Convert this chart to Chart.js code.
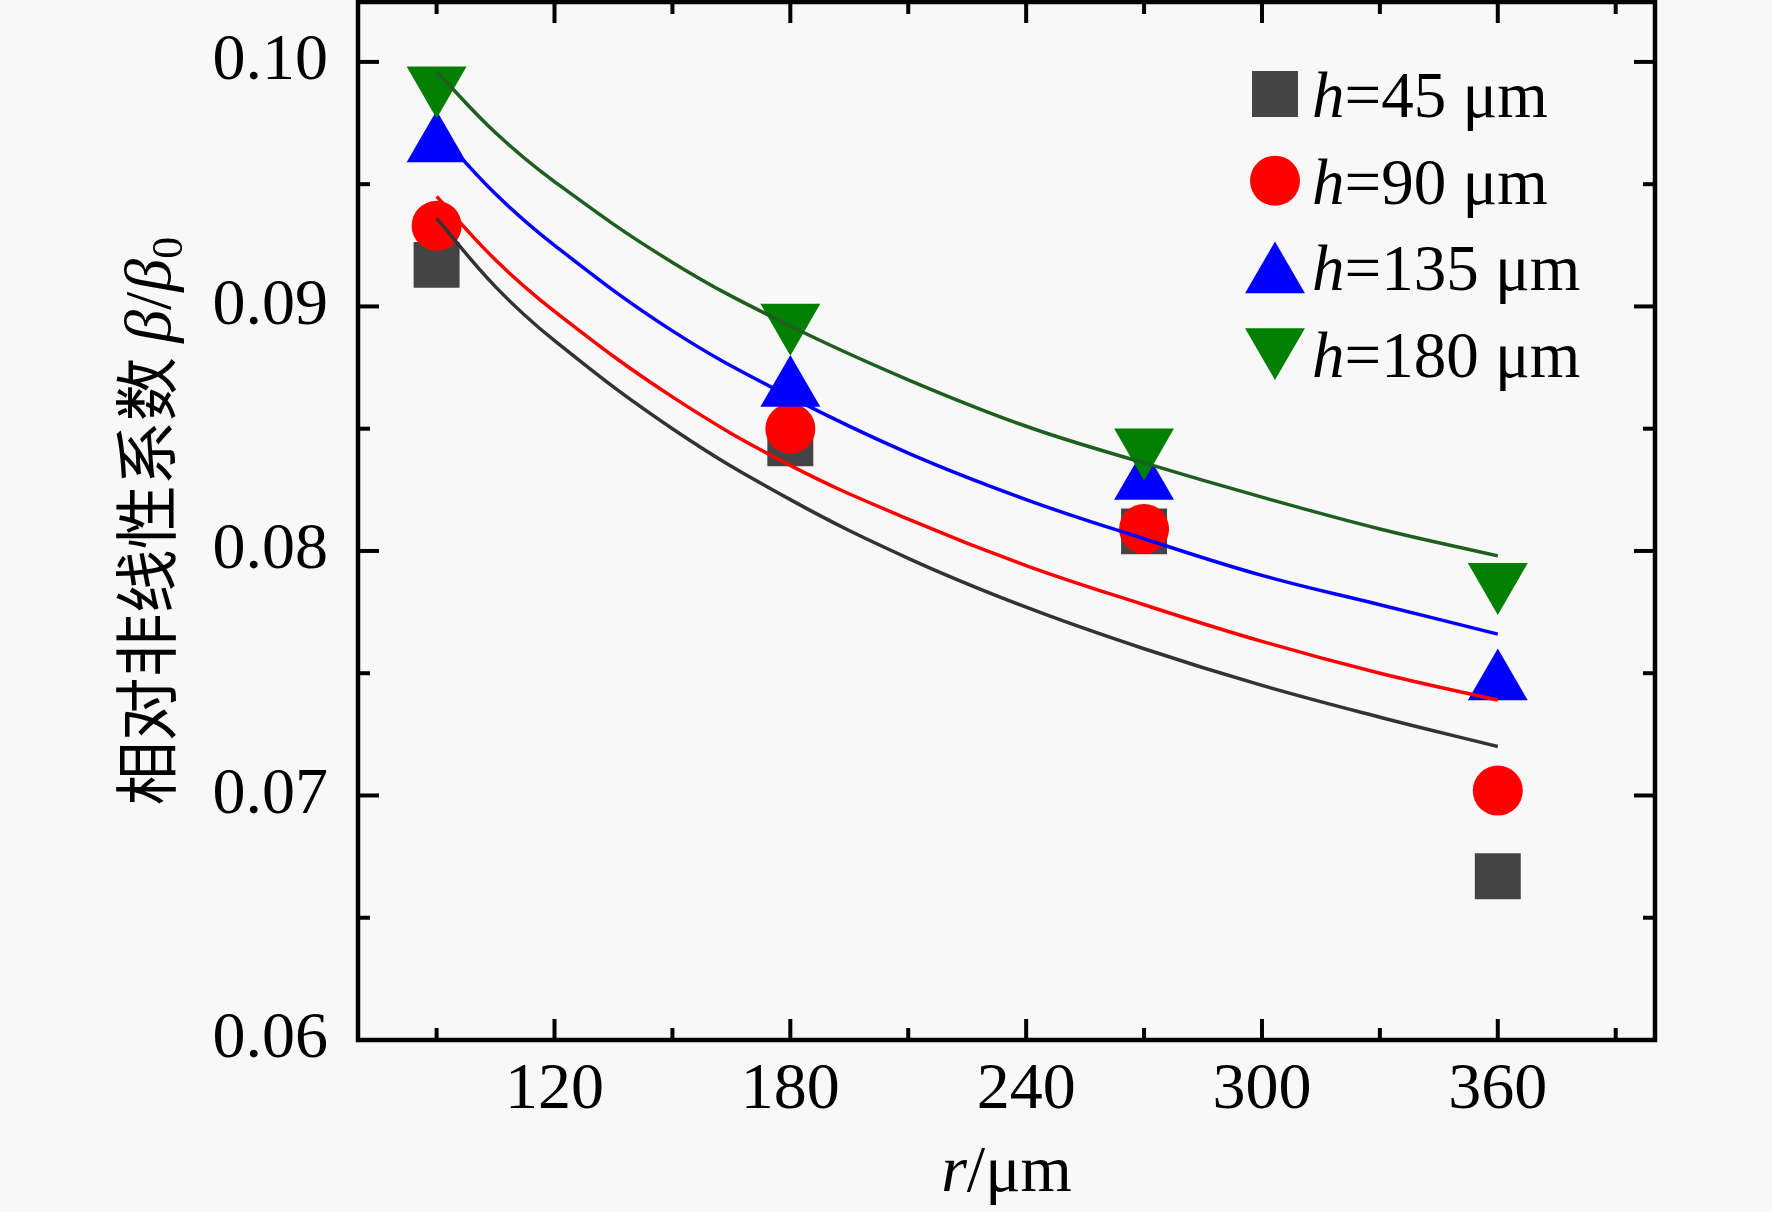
<!DOCTYPE html>
<html>
<head>
<meta charset="utf-8">
<script src="https://cdn.jsdelivr.net/npm/chart.js@4.4.1/dist/chart.umd.min.js"></script>
<style>
  html, body { margin: 0; padding: 0; background: #f8f8f8; }
  #wrap { width: 1772px; height: 1212px; }
</style>
</head>
<body>
<div id="wrap"><canvas id="chart" width="1772" height="1212"></canvas></div>
<script>
/* measured points, r (um) vs beta/beta0 */
const radii = [90, 180, 270, 360];
const h45 = [0.0917, 0.0844, 0.0808, 0.0667];
const h90 = [0.0933, 0.0850, 0.0809, 0.0702];
const h135 = [0.0966, 0.0866, 0.0828, 0.0746];
const h180 = [0.0991, 0.0894, 0.0843, 0.0788];

/* fitted curves */
const fitX = [90, 105, 120, 150, 180, 210, 240, 270, 300, 330, 360];
const fit45 = [0.0936, 0.0908, 0.0886, 0.0850, 0.0821, 0.0797, 0.0777, 0.0760, 0.0745, 0.0732, 0.0720];
const fit90 = [0.0945, 0.0919, 0.0898, 0.0863, 0.0835, 0.0813, 0.0794, 0.0778, 0.0763, 0.0750, 0.0739];
const fit135 = [0.0972, 0.0946, 0.0925, 0.0890, 0.0863, 0.0840, 0.0821, 0.0805, 0.0790, 0.0778, 0.0766];
const fit180 = [0.0996, 0.0971, 0.0951, 0.0918, 0.0892, 0.0870, 0.0851, 0.0836, 0.0822, 0.0809, 0.0798];

const heights = ['45', '90', '135', '180'];
const xMajor = [120, 180, 240, 300, 360];
const xMinor = [90, 150, 210, 270, 330, 390];
const yMajor = [0.06, 0.07, 0.08, 0.09, 0.10];
const yMinor = [0.065, 0.075, 0.085, 0.095];

const SERIF = '"Liberation Serif", "Times New Roman", serif';
const CJK = '"Noto Sans CJK SC", sans-serif';

const toPoints = (xs, ys) => xs.map((x, i) => ({ x, y: ys[i] }));

const markerSet = (label, ys, color, style, radius, rotation, order) => ({
	type: 'scatter',
	label,
	data: toPoints(radii, ys),
	backgroundColor: color,
	pointBackgroundColor: color,
	pointStyle: style,
	pointRadius: radius,
	pointHoverRadius: radius,
	pointRotation: rotation,
	pointBorderWidth: 0,
	borderWidth: 0,
	order,
	isMarker: true,
});

const fitSet = (ys, color) => ({
	type: 'line',
	data: toPoints(fitX, ys),
	borderColor: color,
	borderWidth: 3.5,
	pointRadius: 0,
	tension: 0.4,
	fill: false,
	order: 0,
});

const drawRich = (ctx, parts, x, y) => {
	let cx = x;
	parts.forEach(p => {
		ctx.font = p.font;
		ctx.fillText(p.text, cx, y + (p.dy || 0));
		cx += ctx.measureText(p.text).width;
	});
};

const richWidth = (ctx, parts) => parts.reduce((w, p) => {
	ctx.font = p.font;
	return w + ctx.measureText(p.text).width;
}, 0);

const framePlugin = {
	id: 'frame',
	afterDraw(chart) {
		const { ctx, chartArea: a, scales: { x, y } } = chart;
		ctx.save();
		ctx.strokeStyle = '#000';
		ctx.lineWidth = 4.5;
		ctx.lineCap = 'butt';
		ctx.strokeRect(a.left, a.top, a.right - a.left, a.bottom - a.top);

		const tick = (x1, y1, x2, y2) => {
			ctx.beginPath();
			ctx.moveTo(x1, y1);
			ctx.lineTo(x2, y2);
			ctx.stroke();
		};
		ctx.lineWidth = 4;
		xMajor.forEach(v => {
			const p = x.getPixelForValue(v);
			tick(p, a.bottom, p, a.bottom - 21);
			tick(p, a.top, p, a.top + 21);
		});
		xMinor.forEach(v => {
			const p = x.getPixelForValue(v);
			tick(p, a.bottom, p, a.bottom - 12);
			tick(p, a.top, p, a.top + 12);
		});
		yMajor.forEach(v => {
			const p = y.getPixelForValue(v);
			tick(a.left, p, a.left + 21, p);
			tick(a.right, p, a.right - 21, p);
		});
		yMinor.forEach(v => {
			const p = y.getPixelForValue(v);
			tick(a.left, p, a.left + 12, p);
			tick(a.right, p, a.right - 12, p);
		});

		/* axis titles */
		ctx.fillStyle = '#000';
		ctx.textBaseline = 'alphabetic';
		const xParts = [
			{ text: 'r', font: `italic 66px ${SERIF}` },
			{ text: '/μm', font: `66px ${SERIF}` },
		];
		const xw = richWidth(ctx, xParts);
		drawRich(ctx, xParts, (a.left + a.right) / 2 - xw / 2, 1191);

		const yParts = [
			{ text: '相对非线性系数 ', font: `64px ${CJK}` },
			{ text: 'β', font: `italic 66px ${SERIF}` },
			{ text: '/', font: `66px ${SERIF}` },
			{ text: 'β', font: `italic 66px ${SERIF}` },
			{ text: '0', font: `44px ${SERIF}`, dy: 12 },
		];
		const yw = richWidth(ctx, yParts);
		ctx.save();
		ctx.translate(170, (a.top + a.bottom) / 2);
		ctx.rotate(-Math.PI / 2);
		drawRich(ctx, yParts, -yw / 2, 0);
		ctx.restore();

		/* legend */
		const markers = chart.data.datasets.filter(d => d.isMarker);
		markers.forEach((d, i) => {
			const base = 117 + i * 86.7;
			const cy = base - 23;
			const r = d.pointRadius;
			let py = cy;
			if (d.pointStyle === 'triangle') py = d.pointRotation ? cy - r / 4 : cy + r / 4;
			ctx.fillStyle = d.pointBackgroundColor;
			Chart.helpers.drawPoint(ctx, {
				pointStyle: d.pointStyle,
				rotation: d.pointRotation,
				radius: r,
				borderWidth: 0,
			}, 1275, py);
			ctx.fillStyle = '#000';
			drawRich(ctx, [
				{ text: 'h', font: `italic 65px ${SERIF}` },
				{ text: `=${heights[i]} μm`, font: `65px ${SERIF}` },
			], 1312, base);
		});
		ctx.restore();
	},
};

new Chart(document.getElementById('chart'), {
	data: {
		datasets: [
			markerSet('h=45 μm', h45, '#444444', 'rect', 32.5, 0, 4),
			markerSet('h=90 μm', h90, '#ff0000', 'circle', 25, 0, 3),
			markerSet('h=135 μm', h135, '#0000ff', 'triangle', 34.6, 0, 2),
			markerSet('h=180 μm', h180, '#008000', 'triangle', 34.6, 180, 1),
			fitSet(fit45, '#333333'),
			fitSet(fit90, '#ff0000'),
			fitSet(fit135, '#0000ff'),
			fitSet(fit180, '#1e5e1e'),
		],
	},
	options: {
		responsive: false,
		devicePixelRatio: 1,
		animation: false,
		layout: {
			autoPadding: false,
			padding: { left: 0, top: 2, right: 117, bottom: 0 },
		},
		plugins: {
			legend: { display: false },
			tooltip: { enabled: false },
		},
		scales: {
			x: {
				type: 'linear',
				min: 70,
				max: 400,
				grid: { display: false, drawTicks: false },
				border: { display: false },
				afterBuildTicks: s => { s.ticks = xMajor.map(value => ({ value })); },
				afterFit: s => {
					s.height = 172;
					s.paddingLeft = 0;
					s.paddingRight = 0;
				},
				ticks: {
					padding: 11,
					maxRotation: 0,
					autoSkip: false,
					color: '#000',
					font: { family: SERIF, size: 66 },
				},
			},
			y: {
				type: 'linear',
				min: 0.06,
				max: 0.10245,
				grid: { display: false, drawTicks: false },
				border: { display: false },
				afterBuildTicks: s => { s.ticks = yMajor.map(value => ({ value })); },
				afterFit: s => {
					s.width = 358;
					s.paddingTop = 0;
					s.paddingBottom = 0;
				},
				ticks: {
					padding: 30,
					autoSkip: false,
					color: '#000',
					font: { family: SERIF, size: 66 },
					callback: v => v.toFixed(2),
				},
			},
		},
	},
	plugins: [framePlugin],
});
</script>
</body>
</html>
